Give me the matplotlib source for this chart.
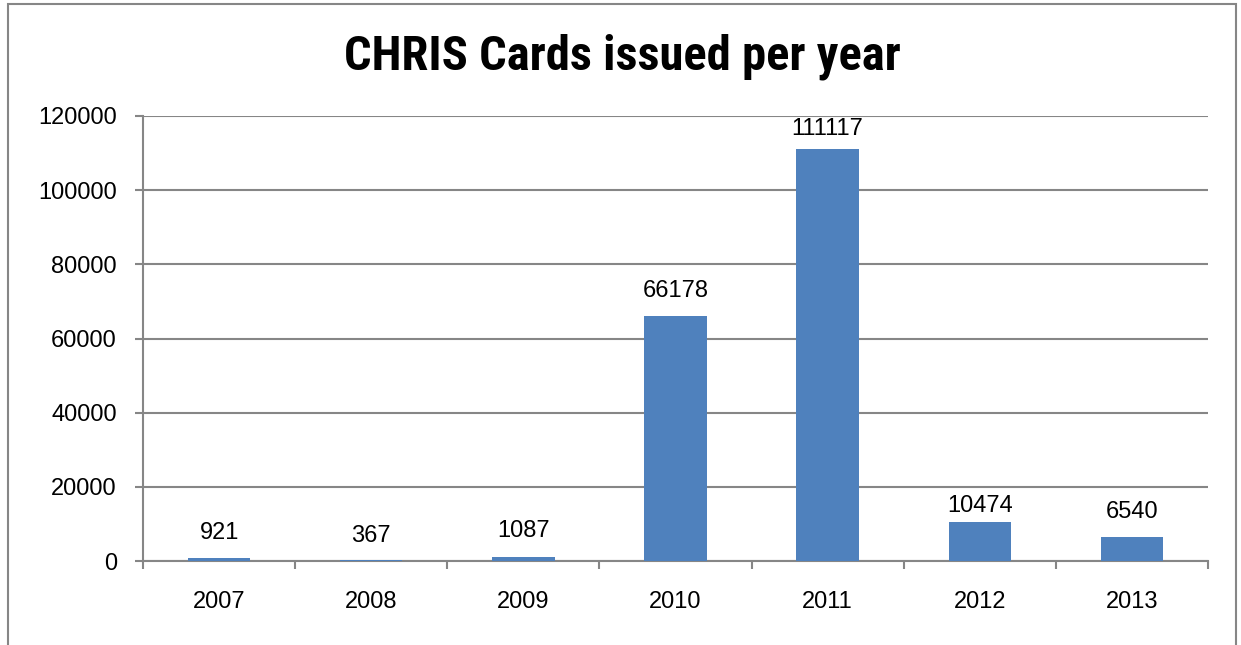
import matplotlib
matplotlib.use("Agg")
import matplotlib.pyplot as plt
from matplotlib.patches import Rectangle

years = ["2007", "2008", "2009", "2010", "2011", "2012", "2013"]
cards = [921, 367, 1087, 66178, 111117, 10474, 6540]
yticks = [0, 20000, 40000, 60000, 80000, 100000, 120000]

W, H, DPI = 1241, 645, 100
fig = plt.figure(figsize=(W / DPI, H / DPI), dpi=DPI)
fig.patch.set_facecolor("white")

# outer chart border
fig.patches.append(Rectangle((8 / W, -0.1), (1236 - 8) / W, (H - 4) / H + 0.1,
                             transform=fig.transFigure, fill=False,
                             edgecolor="#868686", linewidth=1.5))

left, right, top, bottom = 143, 1208, 116, 561
ax = fig.add_axes([left / W, 1 - bottom / H, (right - left) / W, (bottom - top) / H])

tick_font = ["Liberation Sans", "DejaVu Sans"]
gray = "#868686"
px = 72 / DPI  # points per pixel

x = range(len(years))
ax.bar(x, cards, width=0.41, color="#4F81BD", zorder=3)
ax.set_xlim(-0.5, len(years) - 0.5)
ax.set_ylim(0, 120000)
ax.set_yticks(yticks)
ax.set_yticklabels([str(v) for v in yticks], fontsize=17, family=tick_font)
ax.set_xticks(list(x))
ax.set_xticklabels(years, fontsize=17, family=tick_font)
ax.grid(axis="y", color=gray, linewidth=1.5, zorder=0)

for s in ["top", "right"]:
    ax.spines[s].set_visible(False)
for s in ["left", "bottom"]:
    ax.spines[s].set_color(gray)
    ax.spines[s].set_linewidth(1.5)

ax.tick_params(axis="y", length=8 * px, width=1.5, color=gray, pad=18 * px)
ax.tick_params(axis="x", length=0, pad=30 * px)
# x tick marks at category boundaries
ax.set_xticks([i - 0.5 for i in range(len(years) + 1)], minor=True)
ax.tick_params(axis="x", which="minor", length=8 * px, width=1.5, color=gray)

label_gaps = [19, 18, 20, 19, 14, 10, 19]  # pixel gap between bar top and label
for i, v in enumerate(cards):
    ax.annotate(str(v), (i, v), xytext=(0, label_gaps[i] * px), textcoords="offset points",
                ha="center", va="baseline", fontsize=17, family=tick_font)

fig.text((347 + 897) / 2 / W, 1 - 70 / H, "CHRIS Cards issued per year",
         ha="center", va="baseline", fontsize=35, fontweight="bold",
         family=["Roboto Condensed", "DejaVu Sans"])

fig.savefig("out.png", dpi=DPI)
